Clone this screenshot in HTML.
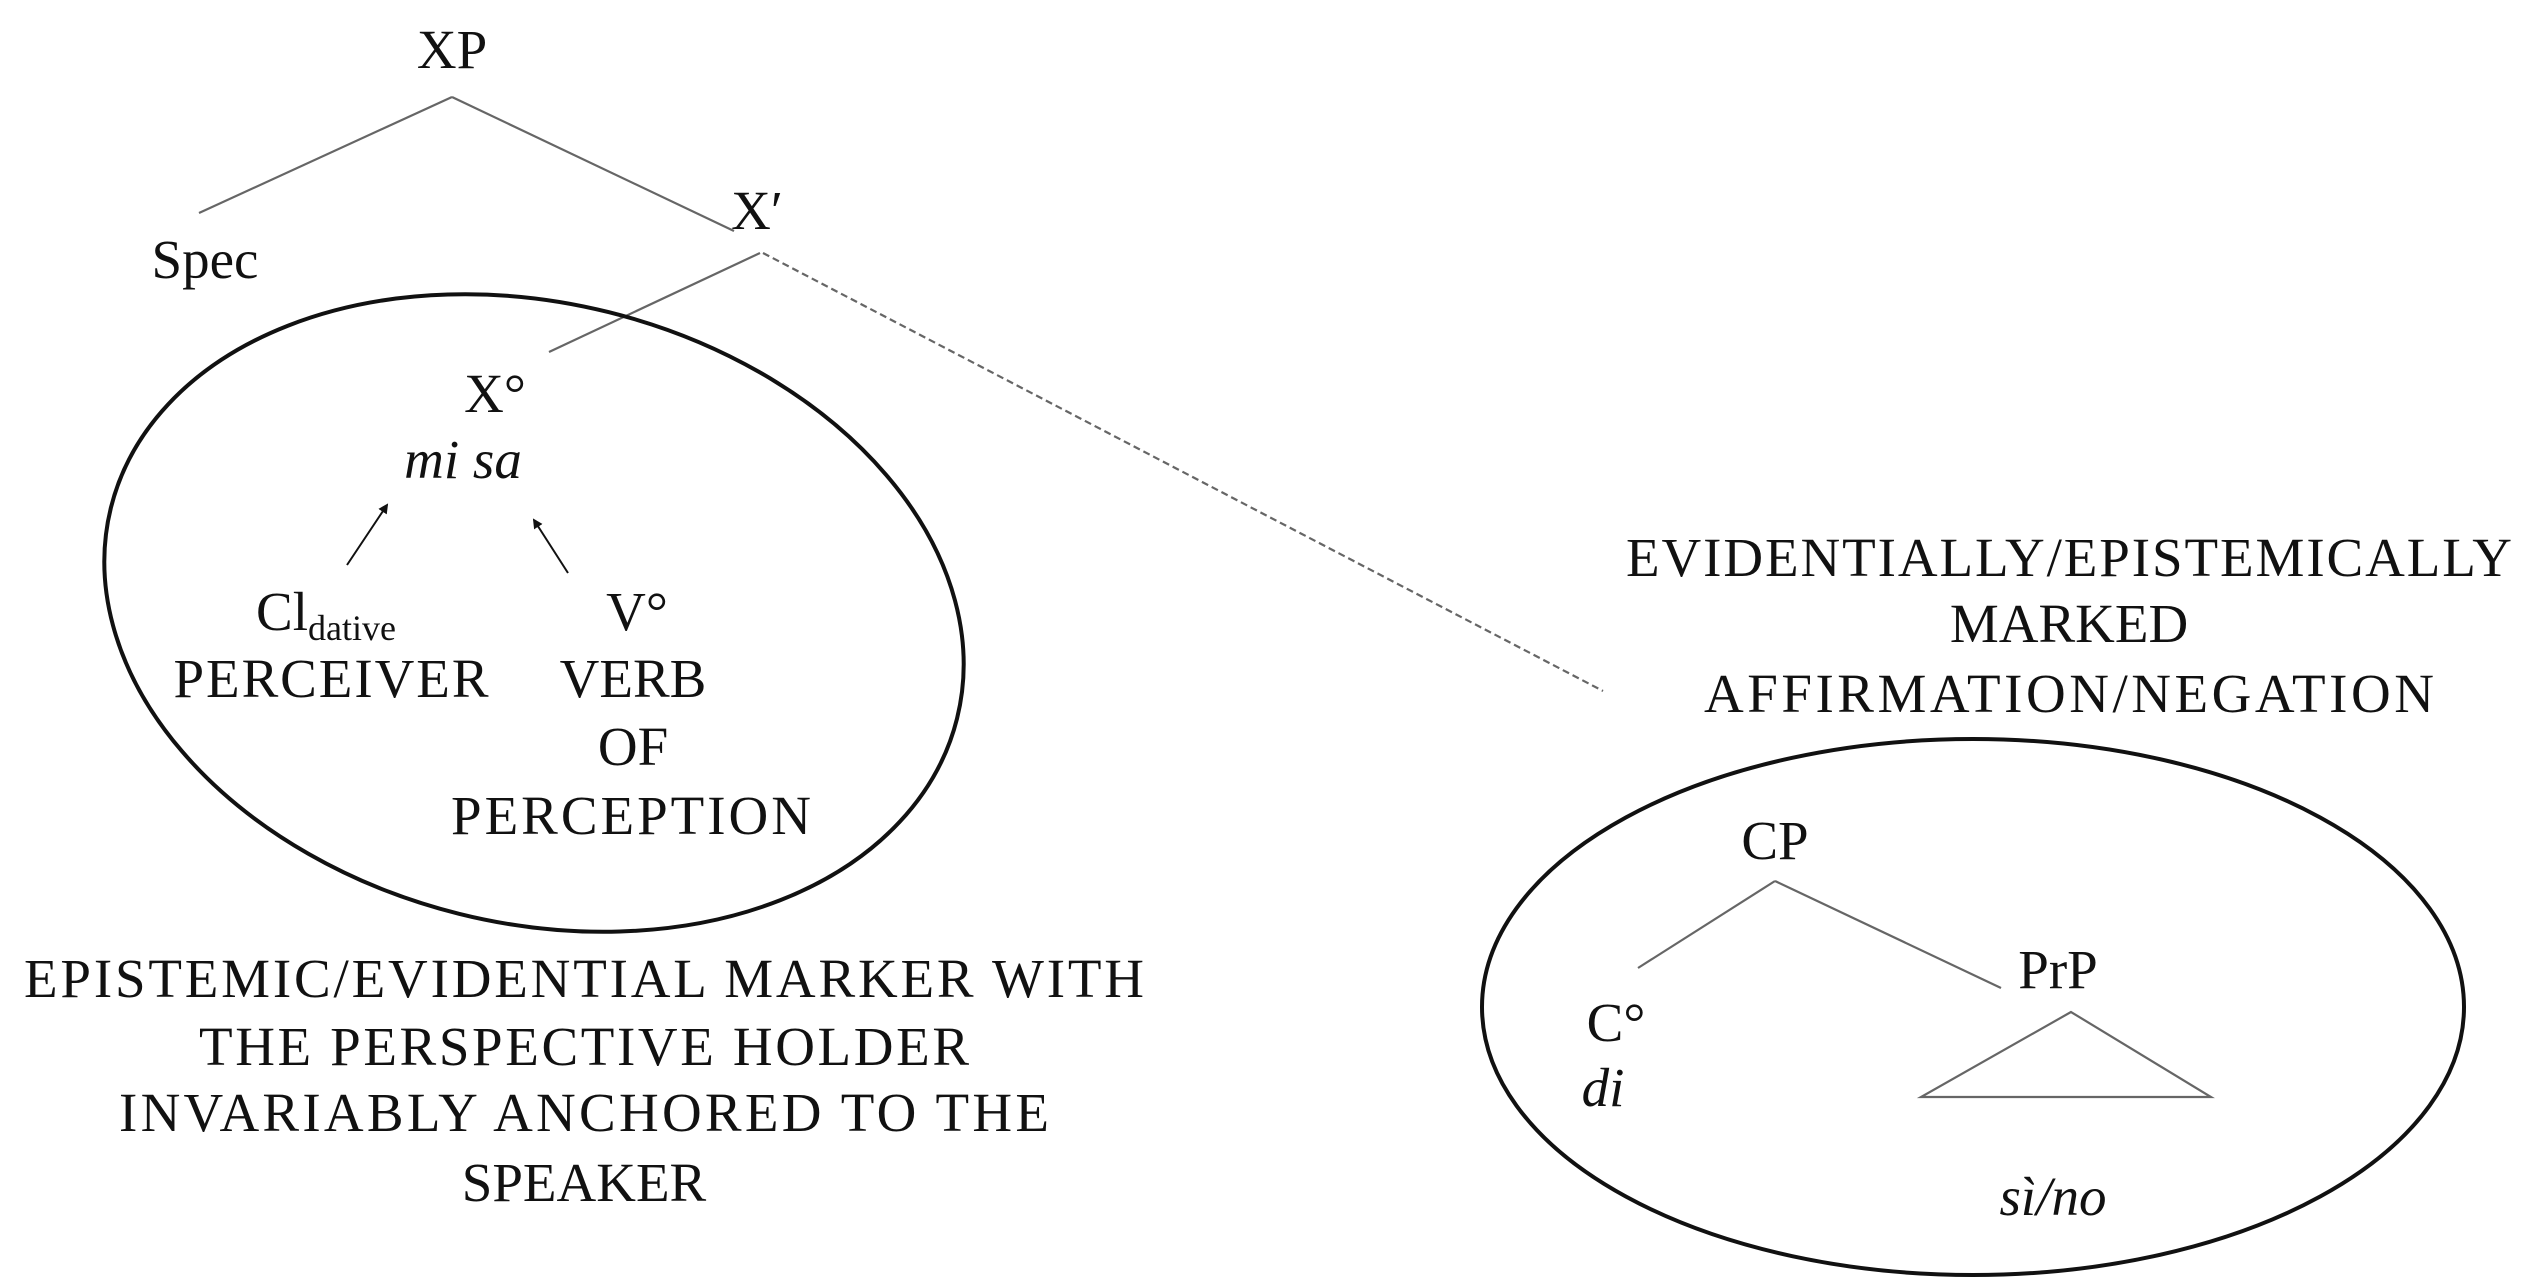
<!DOCTYPE html>
<html><head><meta charset="utf-8"><style>
html,body{margin:0;padding:0;background:#fff;}
svg{display:block;}
text{font-family:"Liberation Serif",serif;font-size:55px;fill:#111;text-anchor:middle;}
.i{font-style:italic;}
</style></head><body>
<svg width="2531" height="1286" viewBox="0 0 2531 1286" xmlns="http://www.w3.org/2000/svg">
<defs><marker id="a" markerWidth="10" markerHeight="10" refX="8" refY="5" orient="auto" markerUnits="userSpaceOnUse"><path d="M0,0 L10,5 L0,10 z" fill="#111"/></marker></defs>
<g stroke="#666" stroke-width="2.2" fill="none">
<line x1="452" y1="97" x2="199" y2="213"/>
<line x1="452" y1="97" x2="734" y2="231"/>
<line x1="760" y1="253" x2="549" y2="352"/>
<line x1="763" y1="253" x2="1603" y2="691" stroke-dasharray="7,4"/>
<line x1="1775" y1="881" x2="1638" y2="968"/>
<line x1="1775" y1="881" x2="2001" y2="988"/>
<path d="M2071,1012 L1921,1097 L2211,1097 Z"/>
</g>
<g stroke="#111" stroke-width="2" fill="none">
<line x1="347" y1="565" x2="387" y2="505" marker-end="url(#a)"/>
<line x1="568" y1="573" x2="534" y2="520" marker-end="url(#a)"/>
</g>
<ellipse cx="534" cy="613" rx="436" ry="310" transform="rotate(14 534 613)" fill="none" stroke="#111" stroke-width="4"/>
<ellipse cx="1973" cy="1007" rx="491" ry="268" fill="none" stroke="#111" stroke-width="4"/>
<text x="452" y="68">XP</text>
<text x="205" y="278">Spec</text>
<text x="757" y="229">X′</text>
<text x="495" y="412">X°</text>
<text x="463" y="478" class="i">mi sa</text>
<text x="326" y="630">Cl<tspan font-size="36" dy="10">dative</tspan></text>
<text x="331" y="697" textLength="315">PERCEIVER</text>
<text x="637" y="630">V°</text>
<text x="633" y="697">VERB</text>
<text x="633" y="765">OF</text>
<text x="631" y="834" textLength="360">PERCEPTION</text>
<text x="584" y="997" textLength="1120">EPISTEMIC/EVIDENTIAL MARKER WITH</text>
<text x="584" y="1065" textLength="770">THE PERSPECTIVE HOLDER</text>
<text x="584" y="1131" textLength="930">INVARIABLY ANCHORED TO THE</text>
<text x="584" y="1201">SPEAKER</text>
<text x="2069" y="576" textLength="886">EVIDENTIALLY/EPISTEMICALLY</text>
<text x="2069" y="642">MARKED</text>
<text x="2069" y="712" textLength="730">AFFIRMATION/NEGATION</text>
<text x="1775" y="859">CP</text>
<text x="2058" y="988">PrP</text>
<text x="1616" y="1041">C°</text>
<text x="1603" y="1106" class="i">di</text>
<text x="2053" y="1215" class="i">sì/no</text>
</svg>
</body></html>
